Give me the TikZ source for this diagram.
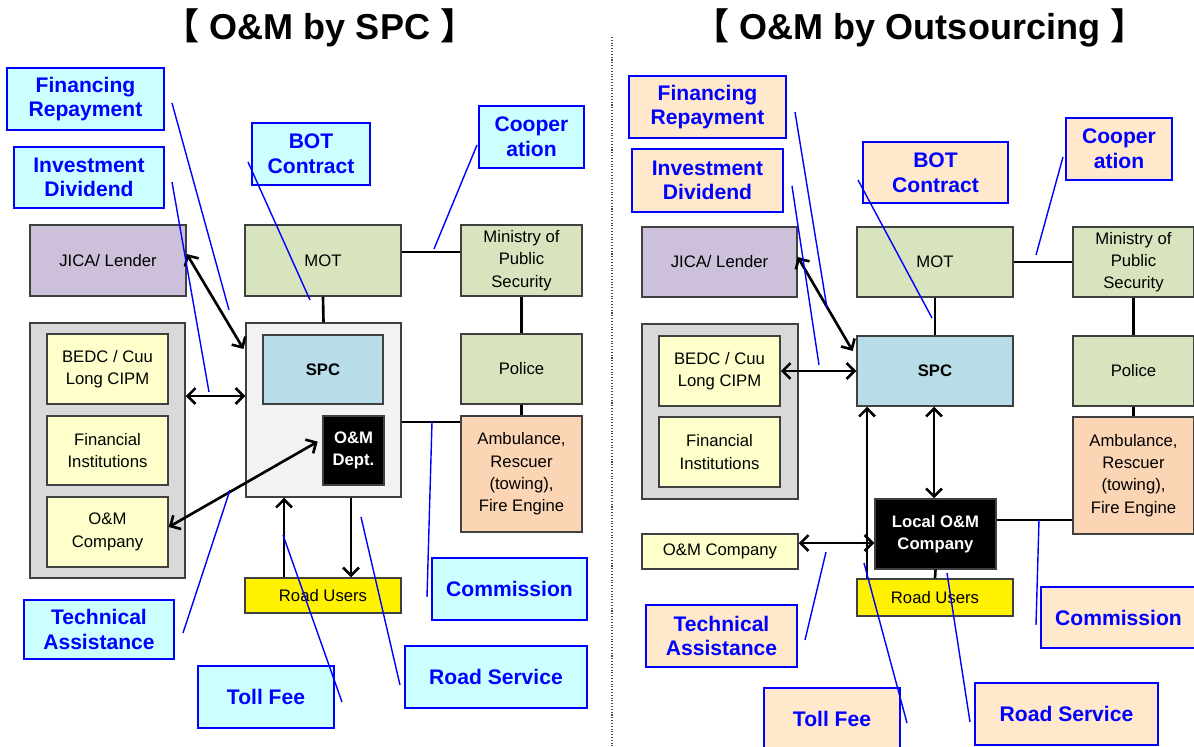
\documentclass[tikz,border=0pt]{standalone}
\usepackage{fontspec}
\setmainfont{Liberation Sans}
\newfontfamily\cjkfont{Noto Sans CJK SC}
\usetikzlibrary{arrows.meta}
\definecolor{lblblue}{HTML}{0000FF}
\definecolor{cyanfill}{HTML}{CCFFFF}
\definecolor{peachfill}{HTML}{FFE8CC}
\definecolor{jicafill}{HTML}{CCC0DA}
\definecolor{govfill}{HTML}{D7E4BD}
\definecolor{grayfill}{HTML}{D9D9D9}
\definecolor{spcofill}{HTML}{F2F2F2}
\definecolor{creamfill}{HTML}{FFFFCC}
\definecolor{spcfill}{HTML}{B7DEE8}
\definecolor{ambfill}{HTML}{FCD5B5}
\definecolor{boxline}{HTML}{404040}
\tikzset{
  sz/.style 2 args={minimum width=#1*0.02cm,minimum height=#2*0.02cm},
  box/.style={rectangle,draw=boxline,line width=0.85pt,inner sep=0pt,align=center,font=\fontsize{9.5}{12.7}\selectfont},
  lblL/.style={rectangle,draw=lblblue,line width=1.1pt,fill=cyanfill,inner sep=0pt,align=center,text=lblblue,font=\fontsize{12}{14}\selectfont\bfseries},
  lblR/.style={lblL,fill=peachfill},
  ln/.style={line width=1.5pt},
  ptr/.style={draw=lblblue,line width=0.8pt},
  ttl/.style={font=\fontsize{20.5}{24}\selectfont\bfseries}
}
\begin{document}
\begin{tikzpicture}[x=0.02cm,y=-0.02cm,>={Straight Barb[length=4.5pt,width=9pt]}]
\useasboundingbox (0,0) rectangle (1194,747);
\node[ttl] (ttlL) at (320,28) {{\cjkfont 【} O\&M by SPC {\cjkfont 】}};
\node[ttl] (ttlR) at (920,28) {{\cjkfont 【} O\&M by Outsourcing {\cjkfont 】}};
\draw[densely dotted,line width=0.6pt,black!70] (612,37) -- (612,747);

% O&M by SPC
\node[box,sz={155}{255},fill=grayfill] (GrayL) at (107.5,450.5) {};
\node[box,sz={155}{174},fill=spcofill] (SPCoL) at (323.5,410) {};
\node[box,sz={156}{71},fill=jicafill] (JICAL) at (108,260.5) {JICA/ Lender};
\node[box,sz={156}{71},fill=govfill] (MOTL) at (323,260.5) {MOT};
\node[box,sz={121}{71},fill=govfill] (MPSL) at (521.5,260.5) {Ministry of\\Public\\Security};
\node[box,sz={121}{70},fill=creamfill] (BEDCL) at (107.5,369) {BEDC / Cuu\\Long CIPM};
\node[box,sz={121}{69},fill=creamfill] (FIL) at (107.5,450.5) {Financial\\Institutions};
\node[box,sz={121}{70},fill=creamfill] (OMCL) at (107.5,532) {O\&M\\Company};
\node[box,sz={120}{69},fill=spcfill,font=\fontsize{9.5}{12.7}\selectfont\bfseries] (SPCL) at (323,369.5) {SPC};
\node[box,sz={61}{69},fill=black,text=white,font=\fontsize{9.5}{12.7}\selectfont\bfseries] (DeptL) at (353.5,450.5) {O\&M\\Dept.};
\node[box,sz={121}{70},fill=govfill] (PolL) at (521.5,369) {Police};
\node[box,sz={121}{116},fill=ambfill] (AmbL) at (521.5,474) {Ambulance,\\Rescuer\\(towing),\\Fire Engine};
\node[box,sz={156}{35},fill=yellow] (RUL) at (323,595.5) {Road Users};

\draw[ln] (MOTL.east |- 0,252) -- (MPSL.west |- 0,252);
\draw[ln] (MOTL.south) -- (SPCoL.north);
\draw[ln] (MPSL.south) -- (PolL.north);
\draw[ln] (PolL.south) -- (AmbL.north);
\draw[ln] (SPCoL.east |- 0,422) -- (AmbL.west |- 0,422);
\draw[ln,<->,shorten >=2pt] (JICAL.east |- 0,254) -- (SPCoL.west |- 0,352);
\draw[ln,<->] (GrayL.east |- 0,396) -- (SPCoL.west |- 0,396);
\draw[ln,<->,shorten >=3pt] (OMCL.east |- 0,527) -- (DeptL.west |- 0,439);
\draw[ln,->] (RUL.north -| 284,0) -- (SPCoL.south -| 284,0);
\draw[ln,->] (SPCoL.south -| 351,0) -- (RUL.north -| 351,0);

\node[lblL,sz={157}{62}] (FinL) at (85.5,99) {Financing\\Repayment};
\node[lblL,sz={150}{61}] (InvL) at (89,177.5) {Investment\\Dividend};
\node[lblL,sz={118}{62}] (BOTL) at (311,154) {BOT\\Contract};
\node[lblL,sz={105}{62}] (CoopL) at (531.5,137) {Cooper\\ation};
\node[lblL,sz={150}{59}] (TAL) at (99,629.5) {Technical\\Assistance};
\node[lblL,sz={136}{62}] (TollL) at (266,697) {Toll Fee};
\node[lblL,sz={182}{62}] (RSL) at (496,677) {Road Service};
\node[lblL,sz={155}{62}] (ComL) at (509.5,589) {Commission};

\coordinate (frLa) at (172,103); \coordinate (frLb) at (229,310);
\coordinate (idLa) at (172,182); \coordinate (idLb) at (209,392);
\coordinate (bcLa) at (248,162); \coordinate (bcLb) at (310,300);
\coordinate (coLa) at (477,145); \coordinate (coLb) at (434,249);
\coordinate (taLa) at (183,633); \coordinate (taLb) at (230,490);
\coordinate (tfLa) at (283,535); \coordinate (tfLb) at (342,702);
\coordinate (rsLa) at (361,517); \coordinate (rsLb) at (400,685);
\coordinate (cmLa) at (432,422); \coordinate (cmLb) at (427,597);
\draw[ptr] (frLa) -- (frLb);
\draw[ptr] (idLa) -- (idLb);
\draw[ptr] (bcLa) -- (bcLb);
\draw[ptr] (coLa) -- (coLb);
\draw[ptr] (taLa) -- (taLb);
\draw[ptr] (tfLa) -- (tfLb);
\draw[ptr] (rsLa) -- (rsLb);
\draw[ptr] (cmLa) -- (cmLb);

% O&M by Outsourcing
\node[box,sz={156}{175},fill=grayfill] (GrayR) at (720,411.5) {};
\node[box,sz={155}{70},fill=jicafill] (JICAR) at (719.5,262) {JICA/ Lender};
\node[box,sz={156}{70},fill=govfill] (MOTR) at (935,262) {MOT};
\node[box,sz={121}{70},fill=govfill] (MPSR) at (1133.5,262) {Ministry of\\Public\\Security};
\node[box,sz={121}{70},fill=creamfill] (BEDCR) at (719.5,371) {BEDC / Cuu\\Long CIPM};
\node[box,sz={121}{70},fill=creamfill] (FIR) at (719.5,452) {Financial\\Institutions};
\node[box,sz={156}{70},fill=spcfill,font=\fontsize{9.5}{12.7}\selectfont\bfseries] (SPCR) at (935,371) {SPC};
\node[box,sz={121}{70},fill=govfill] (PolR) at (1133.5,371) {Police};
\node[box,sz={121}{117},fill=ambfill] (AmbR) at (1133.5,475.5) {Ambulance,\\Rescuer\\(towing),\\Fire Engine};
\node[box,sz={121}{70},fill=black,text=white,font=\fontsize{9.5}{12.7}\selectfont\bfseries] (LocR) at (935.5,534) {Local O\&M\\Company};
\node[box,sz={156}{35},fill=creamfill] (OMCR) at (720,551.5) {O\&M Company};
\node[box,sz={156}{37},fill=yellow] (RUR) at (935,597.5) {Road Users};

\draw[ln] (MOTR) -- (MPSR);
\draw[ln] (MOTR.south) -- (SPCR.north);
\draw[ln] (MPSR.south) -- (PolR.north);
\draw[ln] (PolR.south) -- (AmbR.north);
\draw[ln] (LocR.east |- 0,520) -- (AmbR.west |- 0,520);
\draw[ln] (LocR.south) -- (RUR.north);
\draw[ln,<->,shorten >=4pt] (JICAR.east |- 0,257) -- (SPCR.west |- 0,357);
\draw[ln,<->] (BEDCR) -- (SPCR);
\draw[ln,<->] (SPCR.south -| 934,0) -- (LocR.north -| 934,0);
\draw[ln,<->] (OMCR.east |- 0,543) -- (LocR.west |- 0,543);
\draw[ln,->] (RUR.north -| 867,0) -- (SPCR.south -| 867,0);

\node[lblR,sz={157}{62}] (FinR) at (707.5,107) {Financing\\Repayment};
\node[lblR,sz={151}{63}] (InvR) at (707.5,180.5) {Investment\\Dividend};
\node[lblR,sz={145}{61}] (BOTR) at (935.5,172.5) {BOT\\Contract};
\node[lblR,sz={106}{62}] (CoopR) at (1119,149) {Cooper\\ation};
\node[lblR,sz={151}{62}] (TAR) at (721.5,636) {Technical\\Assistance};
\node[lblR,sz={136}{62}] (TollR) at (832,719) {Toll Fee};
\node[lblR,sz={183}{62}] (RSR) at (1066.5,714) {Road Service};
\node[lblR,sz={155}{61}] (ComR) at (1118.5,617.5) {Commission};

\coordinate (frRa) at (795,112); \coordinate (frRb) at (827,308);
\coordinate (idRa) at (792,186); \coordinate (idRb) at (819,365);
\coordinate (bcRa) at (858,180); \coordinate (bcRb) at (932,318);
\coordinate (coRa) at (1063,157); \coordinate (coRb) at (1036,255);
\coordinate (taRa) at (805,640); \coordinate (taRb) at (826,552);
\coordinate (tfRa) at (864,563); \coordinate (tfRb) at (907,723);
\coordinate (rsRa) at (947,573); \coordinate (rsRb) at (970,722);
\coordinate (cmRa) at (1039,520); \coordinate (cmRb) at (1036,625);
\draw[ptr] (frRa) -- (frRb);
\draw[ptr] (idRa) -- (idRb);
\draw[ptr] (bcRa) -- (bcRb);
\draw[ptr] (coRa) -- (coRb);
\draw[ptr] (taRa) -- (taRb);
\draw[ptr] (tfRa) -- (tfRb);
\draw[ptr] (rsRa) -- (rsRb);
\draw[ptr] (cmRa) -- (cmRb);
\end{tikzpicture}
\end{document}
